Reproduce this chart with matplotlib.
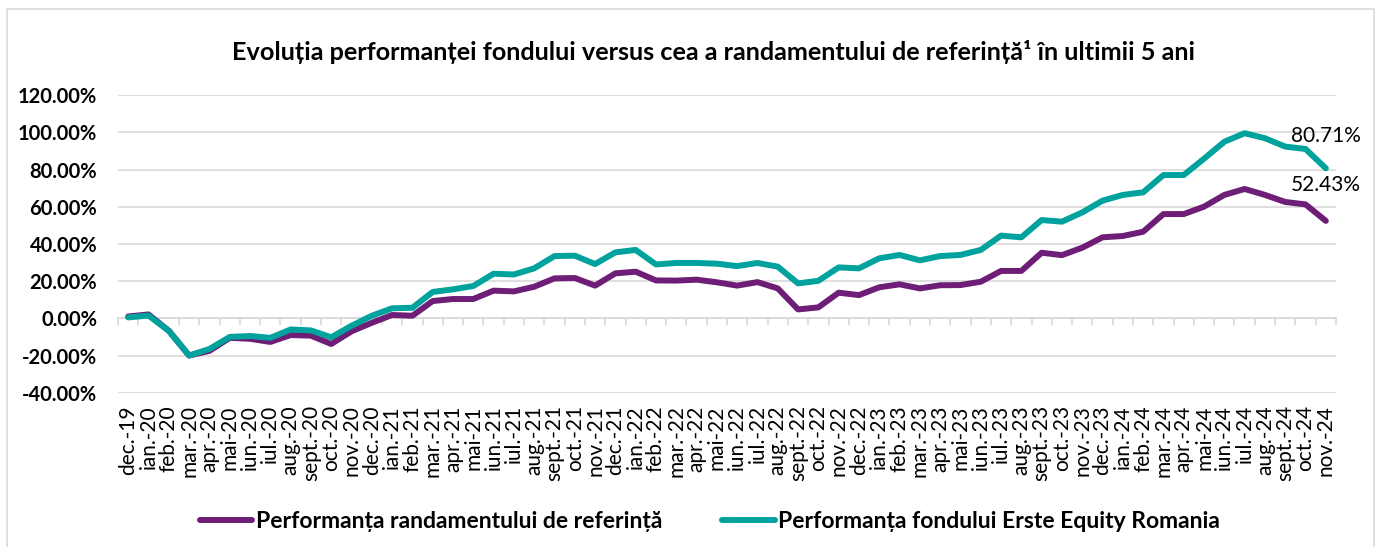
import numpy as np
import matplotlib
matplotlib.use("Agg")
import matplotlib.pyplot as plt
from matplotlib.patches import Rectangle

plt.rcParams['font.family'] = ['Lato', 'DejaVu Sans']

# month labels, dec.-19 .. nov.-24
months = ['dec.', 'ian.', 'feb.', 'mar.', 'apr.', 'mai', 'iun.', 'iul.', 'aug.', 'sept.', 'oct.', 'nov.']
labels = [f"{months[i % 12]}-{19 + (i + 11) // 12}" for i in range(60)]

# Performanta randamentului de referinta (%)
benchmark = [1.0, 2.1, -6.7, -20.0, -17.5, -10.5, -11.0, -12.7, -9.0, -9.3,
             -13.8, -7.0, -2.4, 1.8, 1.4, 9.3, 10.4, 10.4, 14.9, 14.5,
             17.0, 21.5, 21.7, 17.6, 24.2, 25.1, 20.4, 20.3, 20.8, 19.4,
             17.6, 19.5, 16.1, 4.8, 5.9, 13.8, 12.5, 16.7, 18.3, 16.1,
             17.8, 17.9, 19.7, 25.5, 25.5, 35.3, 34.0, 38.0, 43.6, 44.3,
             46.6, 56.1, 56.1, 60.1, 66.4, 69.6, 66.4, 62.6, 61.3, 52.43]

# Performanta fondului Erste Equity Romania (%)
fund = [0.5, 1.5, -6.7, -20.0, -16.5, -10.0, -9.5, -10.5, -6.0, -6.5,
        -10.2, -4.0, 1.4, 5.4, 5.7, 14.2, 15.6, 17.4, 24.0, 23.6,
        26.9, 33.5, 33.7, 29.2, 35.5, 36.8, 29.0, 29.8, 29.8, 29.4,
        28.1, 29.8, 27.8, 18.8, 20.2, 27.4, 26.9, 32.3, 34.1, 31.2,
        33.5, 34.1, 36.8, 44.5, 43.6, 52.9, 52.0, 57.0, 63.3, 66.4,
        67.8, 77.1, 77.1, 85.9, 95.0, 99.6, 96.9, 92.4, 91.1, 80.71]

purple = '#6F1E77'
teal = '#00A29E'
grid_c = '#D9D9D9'

fig = plt.figure(figsize=(13.81, 5.47), dpi=100)
ax = fig.add_axes([0.0855, 0.2821, 0.8819, 0.5437])

x = np.arange(len(labels))
ax.plot(x, benchmark, color=purple, lw=4.3, solid_capstyle='round', solid_joinstyle='round',
        label='Performanța randamentului de referință', zorder=3)
ax.plot(x, fund, color=teal, lw=4.3, solid_capstyle='round', solid_joinstyle='round',
        label='Performanța fondului Erste Equity Romania', zorder=4)

ax.annotate(f"{fund[-1]:.2f}%", (x[-1], fund[-1]), xytext=(0, 23), textcoords='offset points',
            ha='center', va='center', fontsize=15)
ax.annotate(f"{benchmark[-1]:.2f}%", (x[-1], benchmark[-1]), xytext=(0, 26), textcoords='offset points',
            ha='center', va='center', fontsize=15)

ax.set_xlim(-0.5, len(labels) - 0.5)
ax.set_ylim(-40, 120)
ax.set_yticks(np.arange(-40, 121, 20))
ax.set_yticklabels([f"{v:.2f}%" for v in np.arange(-40, 121, 20)], fontweight='bold', fontsize=14.5)
ax.set_xticks(x)
ax.set_xticklabels(labels, rotation=90, fontsize=15)
ax.tick_params(axis='both', length=0)
ax.tick_params(axis='y', pad=15)
ax.tick_params(axis='x', pad=9)
ax.grid(axis='y', color=grid_c, lw=1.2)
ax.set_axisbelow(True)
for s in ax.spines.values():
    s.set_visible(False)

# horizontal axis line at 0% with category tick marks
sec = ax.secondary_xaxis(0.25)
sec.set_xticks(np.arange(-0.5, len(labels), 1))
sec.set_xticklabels([])
sec.tick_params(axis='x', length=5, width=1.2, color=grid_c, direction='out')
sec.spines['bottom'].set_color(grid_c)
sec.spines['bottom'].set_linewidth(1.2)

fig.text(0.517, 0.905,
         "Evoluția performanței fondului versus cea a randamentului de referință¹ în ultimii 5 ani",
         ha='center', va='center', fontsize=18.2, fontweight='bold')

fig.legend(loc='center', bbox_to_anchor=(0.514, 0.047), ncol=2, frameon=False,
           prop={'weight': 'bold', 'size': 16.5}, handlelength=2.3, handletextpad=0.15,
           columnspacing=2.6)

fig.patches.append(Rectangle((0.005, -0.01), 0.99, 0.994, transform=fig.transFigure,
                             fill=False, edgecolor=grid_c, lw=1.2))

fig.savefig('out.png', dpi=100)
